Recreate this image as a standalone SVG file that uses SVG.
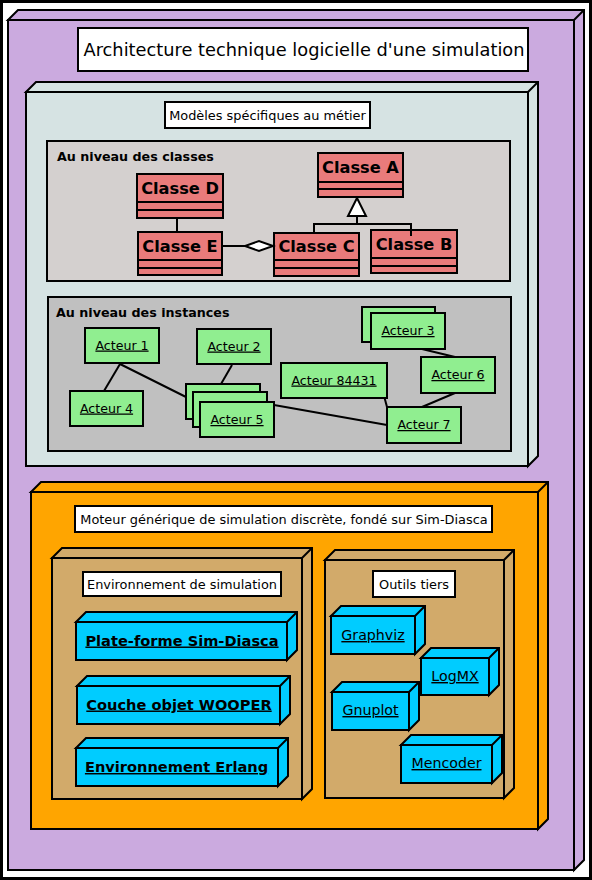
<svg xmlns="http://www.w3.org/2000/svg" width="592" height="880" viewBox="0 0 592 880">
<style>
text{font-family:"DejaVu Sans","Liberation Sans",sans-serif;fill:#000}
.lbl{font-size:12.9px;text-anchor:middle}
.lblbox{fill:#fff;stroke:#000;stroke-width:2}
.pkgt{font-size:12.7px;font-weight:bold}
.cls{fill:#e97b7b;stroke:#000;stroke-width:2}
.clst{font-size:16.2px;font-weight:bold;text-anchor:middle}
.act{fill:#90ee90;stroke:#000;stroke-width:2}
.actt{font-size:12.6px;text-anchor:middle;text-decoration:underline}
.cy{fill:#00ccff;stroke:#000;stroke-width:2;stroke-linejoin:miter}
.cyb{font-size:14.6px;font-weight:bold;text-anchor:middle;text-decoration:underline}
.cyt{font-size:14.2px;text-anchor:middle;text-decoration:underline}
.n3{stroke:#000;stroke-width:2;stroke-linejoin:miter}
.ln{stroke:#000;stroke-width:2;fill:none}
</style>
<rect x="1.5" y="1.5" width="589" height="877" fill="#fff" stroke="#000" stroke-width="3"/>

<g id="node-architecture">
<path class="n3" fill="#cbaadf" d="M8,20 L18,10 L584,10 L584,860 L574,870 L574,20 Z"/>
<rect class="n3" fill="#cbaadf" x="8" y="20" width="566" height="850"/>
<path class="n3" fill="none" d="M574,20 L584,10"/>
<rect class="lblbox" x="78" y="28" width="450" height="43"/>
<text x="304" y="55.5" style="font-size:17.8px;text-anchor:middle">Architecture technique logicielle d'une simulation</text>
</g>

<g id="node-modeles">
<path class="n3" fill="#d6e3e3" d="M26,92 L36,82 L538,82 L538,456 L528,466 L528,92 Z"/>
<rect class="n3" fill="#d6e3e3" x="26" y="92" width="502" height="374"/>
<path class="n3" fill="none" d="M528,92 L538,82"/>
<rect class="lblbox" x="165" y="102" width="205" height="26"/>
<text class="lbl" x="267.5" y="120">Modèles spécifiques au métier</text>
</g>

<g id="pkg-classes">
<rect x="47" y="141" width="463" height="140" fill="#d4d0cf" stroke="#000" stroke-width="2"/>
<text class="pkgt" x="57" y="160.5">Au niveau des classes</text>
</g>

<g id="class-a">
<rect class="cls" x="318" y="153" width="85" height="44"/>
<path class="ln" d="M318,182 H403 M318,189 H403"/>
<text class="clst" x="360.5" y="172.5">Classe A</text>
</g>
<g id="class-d">
<rect class="cls" x="137" y="174" width="86" height="44"/>
<path class="ln" d="M137,202 H223 M137,210 H223"/>
<text class="clst" x="180" y="193.5">Classe D</text>
</g>
<g id="class-e">
<rect class="cls" x="138" y="232" width="84" height="43"/>
<path class="ln" d="M138,260 H222 M138,268 H222"/>
<text class="clst" x="180" y="251.5">Classe E</text>
</g>
<g id="class-c">
<rect class="cls" x="274" y="233" width="85" height="43"/>
<path class="ln" d="M274,260 H359 M274,268 H359"/>
<text class="clst" x="316.5" y="251.5">Classe C</text>
</g>
<g id="class-b">
<rect class="cls" x="371" y="230" width="86" height="43"/>
<path class="ln" d="M371,258 H457 M371,266 H457"/>
<text class="clst" x="414" y="249.5">Classe B</text>
</g>

<g id="pkg-instances">
<rect x="48" y="297" width="463" height="154" fill="#c0c0c0" stroke="#000" stroke-width="2"/>
<text class="pkgt" x="56" y="316.5">Au niveau des instances</text>
</g>

<g id="connectors">
<path class="ln" d="M177,218 V232"/>
<path class="ln" d="M222,246 H245"/>
<path d="M273,246 L259,241 L245,246 L259,251 Z" fill="#fff" stroke="#000" stroke-width="2"/>
<path class="ln" d="M357,216 V224 M314,233 V224 H411 V236"/>
<path d="M357,198 L348,216 L366,216 Z" fill="#fff" stroke="#000" stroke-width="2"/>
<path class="ln" d="M120,364 L104,391"/>
<path class="ln" d="M120,364 L186,397"/>
<path class="ln" d="M232,365 L221,384"/>
<path class="ln" d="M274,405 L387,425"/>
<path class="ln" d="M380,381 L387,407"/>
<path class="ln" d="M422,349 L455,357"/>
<path class="ln" d="M455,393 L422,407"/>
</g>

<g id="acteur-1">
<rect class="act" x="85" y="328" width="74" height="35"/>
<text class="actt" x="122" y="349.5">Acteur 1</text>
</g>
<g id="acteur-2">
<rect class="act" x="197" y="329" width="74" height="35"/>
<text class="actt" x="234" y="350.5">Acteur 2</text>
</g>
<g id="acteur-4">
<rect class="act" x="70" y="391" width="73" height="35"/>
<text class="actt" x="106.5" y="412.5">Acteur 4</text>
</g>
<g id="acteur-5">
<rect class="act" x="186" y="384" width="74" height="35"/>
<rect class="act" x="193" y="392" width="74" height="35"/>
<rect class="act" x="200" y="402" width="74" height="35"/>
<text class="actt" x="237" y="424">Acteur 5</text>
</g>
<g id="acteur-84431">
<rect class="act" x="281" y="363" width="106" height="35"/>
<text class="actt" x="334" y="384.5">Acteur 84431</text>
</g>
<g id="acteur-3">
<rect class="act" x="362" y="307" width="73" height="35"/>
<rect class="act" x="371" y="313" width="74" height="36"/>
<text class="actt" x="408" y="335">Acteur 3</text>
</g>
<g id="acteur-6">
<rect class="act" x="421" y="357" width="74" height="36"/>
<text class="actt" x="458" y="379">Acteur 6</text>
</g>
<g id="acteur-7">
<rect class="act" x="387" y="407" width="74" height="36"/>
<text class="actt" x="424" y="429">Acteur 7</text>
</g>

<g id="node-moteur">
<path class="n3" fill="#ffa500" d="M31,492 L41,482 L548,482 L548,819 L538,829 L538,492 Z"/>
<rect class="n3" fill="#ffa500" x="31" y="492" width="507" height="337"/>
<path class="n3" fill="none" d="M538,492 L548,482"/>
<rect class="lblbox" x="75" y="506" width="417" height="26"/>
<text class="lbl" x="284" y="524">Moteur générique de simulation discrète, fondé sur Sim-Diasca</text>
</g>

<g id="node-environnement">
<path class="n3" fill="#d2aa6a" d="M52,558 L62,548 L312,548 L312,789 L302,799 L302,558 Z"/>
<rect class="n3" fill="#d2aa6a" x="52" y="558" width="250" height="241"/>
<path class="n3" fill="none" d="M302,558 L312,548"/>
<rect class="lblbox" x="83" y="572" width="198" height="24"/>
<text class="lbl" x="182" y="589">Environnement de simulation</text>
</g>

<g id="node-simdiasca">
<path class="cy" d="M76,622 L86,612 L297,612 L297,650 L287,660 L287,622 Z"/>
<rect class="cy" x="76" y="622" width="211" height="38"/>
<path class="cy" fill="none" d="M287,622 L297,612"/>
<text class="cyb" x="182" y="645.5">Plate-forme Sim-Diasca</text>
</g>
<g id="node-wooper">
<path class="cy" d="M77,686 L87,676 L290,676 L290,714 L280,724 L280,686 Z"/>
<rect class="cy" x="77" y="686" width="203" height="38"/>
<path class="cy" fill="none" d="M280,686 L290,676"/>
<text class="cyb" x="179" y="709.5">Couche objet WOOPER</text>
</g>
<g id="node-erlang">
<path class="cy" d="M76,748 L86,738 L288,738 L288,776 L278,786 L278,748 Z"/>
<rect class="cy" x="76" y="748" width="202" height="38"/>
<path class="cy" fill="none" d="M278,748 L288,738"/>
<text class="cyb" x="176.5" y="772">Environnement Erlang</text>
</g>

<g id="node-outils">
<path class="n3" fill="#d2aa6a" d="M325,560 L335,550 L514,550 L514,788 L504,798 L504,560 Z"/>
<rect class="n3" fill="#d2aa6a" x="325" y="560" width="179" height="238"/>
<path class="n3" fill="none" d="M504,560 L514,550"/>
<rect class="lblbox" x="373" y="571" width="82" height="26"/>
<text class="lbl" x="414" y="589">Outils tiers</text>
</g>

<g id="node-graphviz">
<path class="cy" d="M331,616 L341,606 L425,606 L425,644 L415,654 L415,616 Z"/>
<rect class="cy" x="331" y="616" width="84" height="38"/>
<path class="cy" fill="none" d="M415,616 L425,606"/>
<text class="cyt" x="373" y="640">Graphviz</text>
</g>
<g id="node-logmx">
<path class="cy" d="M421,658 L431,648 L499,648 L499,685 L489,695 L489,658 Z"/>
<rect class="cy" x="421" y="658" width="68" height="37"/>
<path class="cy" fill="none" d="M489,658 L499,648"/>
<text class="cyt" x="455" y="681">LogMX</text>
</g>
<g id="node-gnuplot">
<path class="cy" d="M332,692 L342,682 L419,682 L419,720 L409,730 L409,692 Z"/>
<rect class="cy" x="332" y="692" width="77" height="38"/>
<path class="cy" fill="none" d="M409,692 L419,682"/>
<text class="cyt" x="370.5" y="715">Gnuplot</text>
</g>
<g id="node-mencoder">
<path class="cy" d="M401,745 L411,735 L502,735 L502,773 L492,783 L492,745 Z"/>
<rect class="cy" x="401" y="745" width="91" height="38"/>
<path class="cy" fill="none" d="M492,745 L502,735"/>
<text class="cyt" x="446.5" y="768">Mencoder</text>
</g>
</svg>
